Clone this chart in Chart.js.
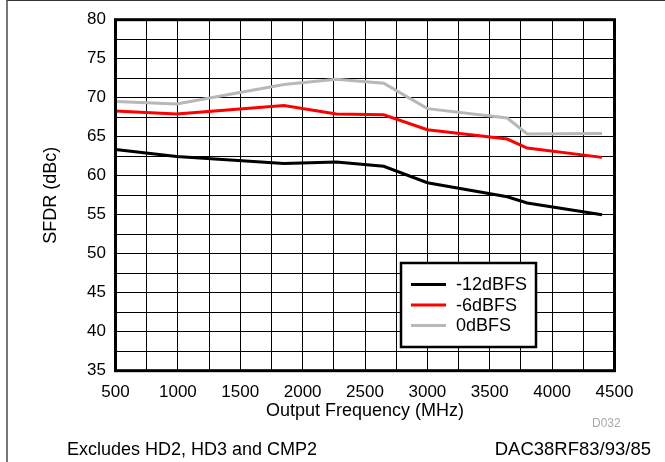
<!DOCTYPE html>
<html><head><meta charset="utf-8">
<script src="https://cdn.jsdelivr.net/npm/chart.js@4.4.0/dist/chart.umd.min.js"></script>
<style>
html,body{margin:0;padding:0;background:#fff;}
#wrap{position:relative;width:665px;height:462px;overflow:hidden;font-family:"Liberation Sans",Arial,sans-serif;}
#frame{position:absolute;left:6px;top:0;width:659px;height:462px;border-top:1px solid #333;border-left:2px solid #777;box-sizing:border-box;}
canvas{position:absolute;left:0;top:0;}
.foot{position:absolute;color:#000;white-space:nowrap;line-height:1;}
#f1{left:67px;top:440px;font-size:18px;}
#f2{right:14px;top:440px;font-size:18.5px;}
#code{position:absolute;left:592px;top:417px;font-size:12px;color:#aaa;white-space:nowrap;line-height:1;}
</style></head><body>
<div id="wrap">
<div id="frame"></div>
<canvas id="c" width="665" height="462"></canvas>
<div class="foot" id="f1">Excludes HD2, HD3 and CMP2</div>
<div class="foot" id="f2">DAC38RF83/93/85</div>
<div id="code">D032</div>
</div>
<script>
// ---- data ----
const frequencies = [500, 990, 1850, 2270, 2650, 3000, 3640, 3800, 4400];
const sfdrM12 = [63.35, 62.45, 61.55, 61.75, 61.2, 59.1, 57.3, 56.5, 55.0];
const sfdrM6  = [68.3, 67.9, 69.0, 67.9, 67.8, 65.9, 64.7, 63.55, 62.35];
const sfdr0   = [69.5, 69.2, 71.7, 72.35, 71.85, 68.6, 67.4, 65.35, 65.4];
const seriesLabels = ['-12dBFS', '-6dBFS', '0dBFS'];
const xTickLabels = [500, 1000, 1500, 2000, 2500, 3000, 3500, 4000, 4500];
const yTickLabels = [35, 40, 45, 50, 55, 60, 65, 70, 75, 80];

const colors = ['#000000', '#ff0000', '#b8b8b8'];
const seriesValues = [sfdrM12, sfdrM6, sfdr0];

Chart.defaults.font.family = "'Liberation Sans', Arial, sans-serif";
Chart.defaults.color = '#000';

const toPoints = vals => frequencies.map((f, i) => ({x: f, y: vals[i]}));

const framePlugin = {
  id: 'frame',
  afterDraw(chart) {
    const {ctx, chartArea: a} = chart;
    ctx.save();
    ctx.strokeStyle = '#000';
    ctx.lineWidth = 3;
    ctx.strokeRect(a.left, a.top, a.right - a.left, a.bottom - a.top);
    // legend box
    const bx = 401, by = 263, bw = 135, bh = 84;
    ctx.fillStyle = '#fff';
    ctx.fillRect(bx, by, bw, bh);
    ctx.lineWidth = 2.5;
    ctx.strokeRect(bx, by, bw, bh);
    ctx.font = "18px 'Liberation Sans', Arial, sans-serif";
    ctx.textBaseline = 'middle';
    ctx.textAlign = 'left';
    chart.data.datasets.forEach((ds, i) => {
      const y = by + 21.5 + i * 20.5;
      ctx.strokeStyle = ds.borderColor;
      ctx.lineWidth = 3;
      ctx.beginPath();
      ctx.moveTo(411, y);
      ctx.lineTo(446, y);
      ctx.stroke();
      ctx.fillStyle = '#000';
      ctx.fillText(ds.label, 456, y + 1);
    });
    ctx.restore();
  }
};

new Chart(document.getElementById('c'), {
  type: 'line',
  data: {
    datasets: seriesValues.map((v, i) => ({
      label: seriesLabels[i],
      data: toPoints(v),
      borderColor: colors[i],
      backgroundColor: colors[i],
      borderWidth: 3,
      pointRadius: 0,
      tension: 0,
      fill: false
    }))
  },
  options: {
    responsive: false,
    animation: false,
    devicePixelRatio: 1,
    layout: {padding: {left: 0, top: 18.5, right: 50.5, bottom: 0}},
    plugins: {legend: {display: false}, tooltip: {enabled: false}},
    scales: {
      x: {
        type: 'linear',
        min: 500, max: 4500,
        afterFit: s => { s.height = 91.3; },
        ticks: {
          stepSize: 250, autoSkip: false, maxRotation: 0,
          padding: 11,
          font: {size: 17},
          callback: v => xTickLabels.includes(v) ? String(v) : ''
        },
        grid: {color: '#000', lineWidth: 1, drawTicks: false},
        border: {display: false},
        title: {display: true, text: 'Output Frequency (MHz)', font: {size: 18}, padding: {top: 0, bottom: 39.7}}
      },
      y: {
        type: 'linear',
        min: 35, max: 80,
        afterFit: s => { s.width = 115.5; },
        ticks: {
          stepSize: 2.5, autoSkip: false,
          padding: 9.5,
          font: {size: 17},
          callback: v => yTickLabels.includes(v) ? String(v) : ''
        },
        grid: {color: '#000', lineWidth: 1, drawTicks: false},
        border: {display: false},
        title: {display: true, text: 'SFDR (dBc)', font: {size: 18}, padding: {top: 40.2, bottom: 0}}
      }
    }
  },
  plugins: [framePlugin]
});
</script>
</body></html>
